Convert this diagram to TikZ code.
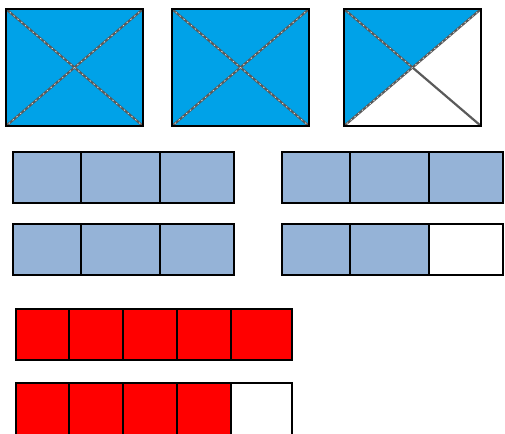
\documentclass[tikz,border=0pt]{standalone}
\definecolor{skyb}{HTML}{00A2E8}
\definecolor{steel}{HTML}{95B3D7}
\definecolor{diag}{HTML}{5A5A5A}
\begin{document}
\begin{tikzpicture}[x=1pt,y=-1pt,
  sq/.style={draw=black,line width=1.8pt},
  cell/.style={draw=black,line width=2.6pt},
  dg/.style={draw=diag,line width=2.2pt},
  dgdash/.style={draw=white!80!gray,line width=0.7pt,dash pattern=on 1.5pt off 3.5pt}]
\useasboundingbox (0,0) rectangle (505,433);
% squares
\foreach \x in {6,172}{
  \fill[skyb] (\x,9) rectangle (\x+137,126);
  \draw[dg] (\x,9) -- (\x+137,126);
  \draw[dg] (\x+137,9) -- (\x,126);
  \draw[dgdash] (\x,9) -- (\x+137,126);
  \draw[dgdash] (\x+137,9) -- (\x,126);
  \draw[sq] (\x,9) rectangle (\x+137,126);
}
\fill[skyb] (344,9) -- (481,9) -- (412.5,67.5) -- (344,126) -- cycle;
\draw[dg] (344,9) -- (481,126);
\draw[dg] (481,9) -- (344,126);
\draw[dgdash] (344,9) -- (412.5,67.5);
\draw[dgdash] (481,9) -- (344,126);
\draw[sq] (344,9) rectangle (481,126);
% blue rows
\foreach \x/\d/\e/\r in {13/81/160/234, 282/350/429/503}{
  \foreach \y in {152,224}{
    \fill[steel] (\x,\y) rectangle (\r,\y+51);
  }
}
\fill[white] (429,224) rectangle (503,275);
\foreach \x/\d/\e/\r in {13/81/160/234, 282/350/429/503}{
  \foreach \y in {152,224}{
    \draw[cell] (\x,\y) rectangle (\r,\y+51);
    \draw[cell] (\d,\y) -- (\d,\y+51);
    \draw[cell] (\e,\y) -- (\e,\y+51);
  }
}
% red rows
\fill[red] (16,309) rectangle (292,360);
\fill[red] (16,383) rectangle (231,440);
\draw[cell] (16,309) rectangle (292,360);
\draw[cell] (16,440) -- (16,383) -- (292,383) -- (292,440);
\foreach \d in {69,123,177,231}{
  \draw[cell] (\d,309) -- (\d,360);
  \draw[cell] (\d,383) -- (\d,440);
}
\end{tikzpicture}
\end{document}
